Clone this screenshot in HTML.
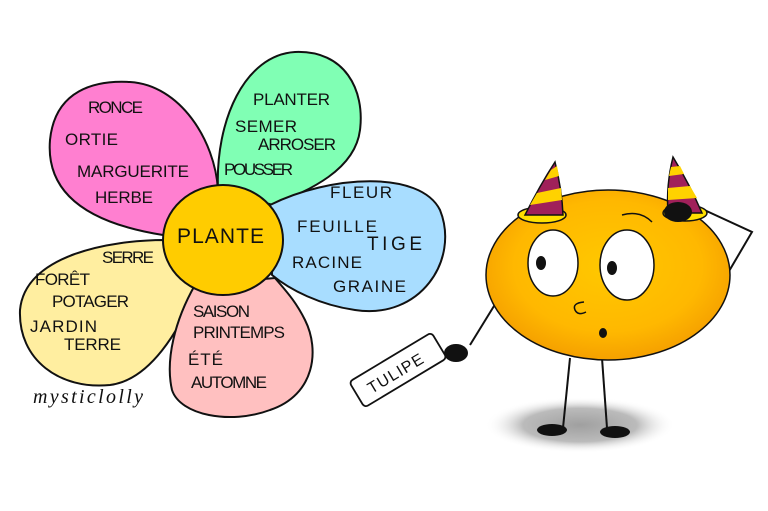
<!DOCTYPE html>
<html><head><meta charset="utf-8"><style>
html,body{margin:0;padding:0;background:#fff;width:768px;height:511px;overflow:hidden}
svg text{font-family:"Liberation Sans",sans-serif;fill:#111;font-size:17px}
</style></head><body>
<svg width="768" height="511" viewBox="0 0 768 511" xmlns="http://www.w3.org/2000/svg">
<defs>
<radialGradient id="bod" cx="50%" cy="45%" r="55%"><stop offset="0" stop-color="#ffc800"/><stop offset="0.7" stop-color="#ffb800"/><stop offset="1" stop-color="#f5a000"/></radialGradient>
<radialGradient id="sh" cx="50%" cy="50%" r="50%"><stop offset="0" stop-color="#888"/><stop offset="0.6" stop-color="#aaa"/><stop offset="1" stop-color="#fff" stop-opacity="0"/></radialGradient>
</defs>
<g stroke="#111" stroke-width="2" stroke-linejoin="round">
<path d="M163,235 C100,225 45,200 50,140 C55,90 95,80 130,82 C180,85 215,140 218,190 Z" fill="#ff7fd0"/>
<path d="M218,190 C215,120 245,55 295,52 C345,50 365,90 360,130 C355,170 310,190 273,205 Z" fill="#80ffb4"/>
<path d="M270,205 C330,175 420,170 440,210 C460,260 420,320 355,310 C320,305 290,290 272,275 Z" fill="#a8ddff"/>
<path d="M165,240 C110,240 25,255 20,310 C18,360 60,390 110,385 C150,380 180,330 195,290 Z" fill="#ffeea0"/>
<path d="M195,285 C175,320 165,360 172,390 C180,415 230,425 270,410 C315,395 320,350 305,320 C295,300 285,290 275,278 Z" fill="#ffc0c0"/>
<ellipse cx="223" cy="240" rx="60" ry="55" fill="#ffcc00"/>
</g>
<text x="88" y="113" textLength="55">RONCE</text>
<text x="65" y="145" textLength="53">ORTIE</text>
<text x="77" y="177" textLength="112">MARGUERITE</text>
<text x="95" y="203" textLength="58">HERBE</text>
<text x="253" y="105" textLength="77">PLANTER</text>
<text x="235" y="132" textLength="62">SEMER</text>
<text x="258" y="150" textLength="78">ARROSER</text>
<text x="224" y="175" textLength="69">POUSSER</text>
<text x="330" y="198" textLength="62">FLEUR</text>
<text x="297" y="232" textLength="80">FEUILLE</text>
<text x="367" y="250" textLength="55" style="font-size:19px">TIGE</text>
<text x="292" y="268" textLength="70">RACINE</text>
<text x="333" y="292" textLength="73">GRAINE</text>
<text x="177" y="243" textLength="87" style="font-size:21px">PLANTE</text>
<text x="102" y="263" textLength="52">SERRE</text>
<text x="35" y="285" textLength="55">FORÊT</text>
<text x="52" y="307" textLength="77">POTAGER</text>
<text x="30" y="332" textLength="67">JARDIN</text>
<text x="64" y="350" textLength="57">TERRE</text>
<text x="193" y="317" textLength="57">SAISON</text>
<text x="193" y="338" textLength="92">PRINTEMPS</text>
<text x="188" y="365" textLength="35">ÉTÉ</text>
<text x="191" y="388" textLength="76">AUTOMNE</text>
<text x="33" y="403" textLength="110" style="font-family:'Liberation Serif',serif;font-style:italic;font-size:20px">mysticlolly</text>
<ellipse cx="580" cy="425" rx="95" ry="28" fill="url(#sh)" opacity="0.8"/>
<g stroke="#111" stroke-width="2" fill="none">
<path d="M570,358 L563,428"/><path d="M602,358 L607,428"/>
<path d="M502,293 L470,345"/>
<path d="M725,278 L752,232 L700,208"/>
</g>
<ellipse cx="552" cy="430" rx="15" ry="6" fill="#111"/>
<ellipse cx="615" cy="432" rx="15" ry="6" fill="#111"/>
<ellipse cx="608" cy="275" rx="122" ry="85" fill="url(#bod)" stroke="#111" stroke-width="1.5"/>
<ellipse cx="542" cy="215" rx="24" ry="8" fill="#ffe000" stroke="#111" stroke-width="1.5"/>
<path d="M525,215 Q540,185 555,162 Q562,190 563,215 Z" fill="#a0205a" stroke="#111" stroke-width="1.5"/>
<path d="M530,205 L562,200 L561,188 L537,193 Z M545,180 L559,176 L557,166 L551,170 Z" fill="#ffd200"/>
<ellipse cx="685" cy="213" rx="22" ry="8" fill="#ffe000" stroke="#111" stroke-width="1.5"/>
<path d="M668,213 Q666,185 673,157 Q690,185 702,213 Z" fill="#a0205a" stroke="#111" stroke-width="1.5"/>
<path d="M668,200 L697,198 L690,186 L668,188 Z M669,176 L684,174 L680,166 L671,167 Z" fill="#ffd200"/>
<ellipse cx="678" cy="212" rx="14" ry="10" fill="#111"/>
<ellipse cx="553" cy="263" rx="25" ry="33" fill="#fff" stroke="#111" stroke-width="1.5"/>
<ellipse cx="627" cy="265" rx="27" ry="35" fill="#fff" stroke="#111" stroke-width="1.5"/>
<ellipse cx="541" cy="263" rx="5" ry="7" fill="#111"/>
<ellipse cx="612" cy="268" rx="5" ry="7" fill="#111"/>
<path d="M622,215 Q640,210 652,222" stroke="#111" stroke-width="1.5" fill="none"/>
<path d="M584,302 Q572,303 575,310 Q578,316 586,312" stroke="#111" stroke-width="1.5" fill="none"/>
<ellipse cx="603" cy="333" rx="4" ry="5" fill="#111"/>
<g transform="translate(398,370) rotate(-31)">
<rect x="-48" y="-15" width="96" height="30" rx="4" fill="#fff" stroke="#111" stroke-width="1.8"/>
<text x="-35" y="7" textLength="62" style="font-size:16px">TULIPE</text>
</g>
<ellipse cx="456" cy="353" rx="12" ry="9" fill="#111"/>
</svg>
</body></html>
